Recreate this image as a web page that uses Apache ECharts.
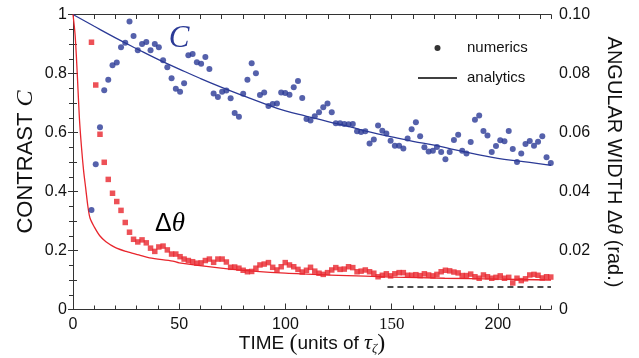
<!DOCTYPE html>
<html><head><meta charset="utf-8">
<script src="https://cdn.jsdelivr.net/npm/echarts@6/dist/echarts.min.js"></script>
<style>html,body{margin:0;padding:0;background:#fff}#c{width:639px;height:358px}</style>
</head><body><div id="c"></div>
<script>
// ---- data ----
const time = [8.7,10.7,12.7,14.7,16.6,18.6,20.6,22.6,24.6,26.6,28.5,30.5,32.5,34.5,36.5,38.5,40.4,42.4,44.4,46.4,48.4,50.4,52.3,54.3,56.3,58.3,60.3,62.3,64.2,66.2,68.2,70.2,72.2,74.2,76.1,78.1,80.1,82.1,84.1,86.1,88.0,90.0,92.0,94.0,96.0,98.0,99.9,101.9,103.9,105.9,107.9,109.9,111.8,113.8,115.8,117.8,119.8,121.8,123.7,125.7,127.7,129.7,131.7,133.7,135.6,137.6,139.6,141.6,143.6,145.6,147.5,149.5,151.5,153.5,155.5,157.5,159.4,161.4,163.4,165.4,167.4,169.4,171.3,173.3,175.3,177.3,179.3,181.3,183.2,185.2,187.2,189.2,191.2,193.2,195.1,197.1,199.1,201.1,203.1,205.1,207.0,209.0,211.0,213.0,215.0,217.0,218.9,220.9,222.9,224.9];
const contrastNumerics = [0.337,0.492,0.618,0.743,0.779,0.828,0.837,0.889,0.904,0.976,0.927,0.879,0.900,0.907,0.879,0.900,0.889,0.845,0.821,0.784,0.748,0.738,0.767,0.862,0.866,0.838,0.833,0.856,0.815,0.732,0.720,0.738,0.742,0.716,0.666,0.653,0.731,0.779,0.835,0.801,0.727,0.736,0.690,0.697,0.698,0.736,0.734,0.728,0.753,0.775,0.717,0.646,0.641,0.655,0.669,0.686,0.698,0.669,0.631,0.631,0.629,0.628,0.629,0.604,0.602,0.604,0.563,0.576,0.624,0.606,0.597,0.572,0.555,0.555,0.546,0.580,0.611,0.635,0.587,0.550,0.536,0.538,0.551,0.534,0.509,0.534,0.575,0.592,0.538,0.529,0.568,0.643,0.658,0.605,0.590,0.534,0.554,0.574,0.570,0.605,0.544,0.500,0.529,0.561,0.571,0.555,0.569,0.587,0.516,0.497];
const widthNumerics = [0.0906,0.0761,0.0594,0.0499,0.0441,0.0394,0.0366,0.0336,0.0295,0.0262,0.0238,0.0229,0.0236,0.0226,0.0208,0.0197,0.0212,0.0215,0.0202,0.0188,0.0188,0.0179,0.0171,0.0166,0.0162,0.0157,0.0158,0.0166,0.0171,0.0160,0.0171,0.0171,0.0161,0.0143,0.0144,0.0140,0.0133,0.0128,0.0129,0.0140,0.0151,0.0154,0.0159,0.0143,0.0134,0.0145,0.0159,0.0151,0.0145,0.0136,0.0127,0.0133,0.0143,0.0130,0.0123,0.0119,0.0125,0.0134,0.0142,0.0136,0.0137,0.0145,0.0142,0.0128,0.0130,0.0134,0.0128,0.0123,0.0111,0.0116,0.0121,0.0114,0.0121,0.0125,0.0125,0.0116,0.0116,0.0118,0.0115,0.0121,0.0117,0.0114,0.0119,0.0128,0.0133,0.0131,0.0127,0.0124,0.0115,0.0115,0.0120,0.0111,0.0106,0.0117,0.0111,0.0106,0.0109,0.0114,0.0106,0.0109,0.0090,0.0106,0.0098,0.0104,0.0117,0.0119,0.0116,0.0107,0.0111,0.0110];
const contrastAnalyticT = [0,10,20,30,40,50,60,70,80,90,100,110,120,130,140,150,160,170,180,190,200,210,220,225];
const contrastAnalytic = [1.000,0.960,0.921,0.884,0.848,0.815,0.783,0.753,0.725,0.698,0.673,0.655,0.637,0.620,0.601,0.585,0.570,0.557,0.541,0.526,0.512,0.503,0.494,0.489];
const widthAnalyticT = [0,1,2,3,4,5,6,7,8,10,12.6,15.5,20,25,31,36,47,50,75,100,125,150,175,200,225];
const widthAnalytic = [0.100,0.093,0.080,0.065,0.055,0.047,0.041,0.035,0.031,0.028,0.025,0.023,0.021,0.0197,0.0185,0.0175,0.0164,0.0158,0.0136,0.0123,0.0116,0.0110,0.0106,0.0103,0.0100];
const floorT = [148, 225];
const floorWidth = [0.0076, 0.0076];

const BLUE = '#2b3a96', RED = '#e8262d', AX = '#333';
const SANS = '"Liberation Sans", Arial, sans-serif';
const SERIF = '"Liberation Serif", "DejaVu Serif", serif';
const zip = (a, b) => a.map((v, i) => [v, b[i]]);

const chart = echarts.init(document.getElementById('c'), null, {renderer: 'canvas'});
const hideAll = {axisLine:{show:false}, axisLabel:{show:false}, splitLine:{show:false}};
chart.setOption({
  animation: false,
  backgroundColor: '#fff',
  grid: {left: 73, right: 88, top: 14.5, bottom: 48.5, outerBoundsMode: 'none', containLabel: false},
  legend: {
    orient: 'vertical', left: 413, top: 34, itemWidth: 39, itemHeight: 6, itemGap: 12,
    textStyle: {fontFamily: SANS, fontSize: 15, color: '#111', padding: [0,0,0,5], lineHeight: 18},
    data: [
      {name: 'numerics', icon: 'circle', itemStyle: {color: '#000'}},
      {name: 'analytics', icon: 'path://M0 0 H40 V1.6 H0 Z', itemStyle: {color: '#000'}}
    ]
  },
  xAxis: [
    {type: 'value', position: 'bottom', min: 0, max: 225, interval: 50,
     axisLine: {lineStyle: {color: AX, width: 1}},
     axisTick: {inside: true, length: 6, lineStyle: {color: AX}},
     splitLine: {show: false},
     axisLabel: {margin: 7, fontFamily: SANS, fontSize: 16, color: '#111', showMaxLabel: false,
       formatter: v => v === 150 ? '{s|150}' : String(v),
       rich: {s: {fontFamily: SERIF, fontSize: 17, color: '#111'}}},
     name: '{a|TIME }{p|(}{a|units of }{g|τ}{s|ζ}{p|)}', nameLocation: 'middle', nameGap: 22, nameMoveOverlap: false,
     nameTextStyle: {rich: {
       a: {fontFamily: SANS, fontSize: 19, color: '#111', verticalAlign: 'middle'},
       p: {fontFamily: SERIF, fontSize: 24, color: '#111', verticalAlign: 'middle'},
       g: {fontFamily: SERIF, fontStyle: 'italic', fontSize: 22, color: '#111', verticalAlign: 'middle'},
       s: {fontFamily: SERIF, fontStyle: 'italic', fontSize: 13, color: '#111', verticalAlign: 'bottom', padding: [10,0,0,0]}
     }}},
    Object.assign({type: 'value', position: 'bottom', min: 0, max: 225, interval: 10,
     axisTick: {inside: true, length: 4, lineStyle: {color: AX}}}, hideAll),
    {type: 'value', position: 'top', min: 0, max: 225, interval: 10,
     axisLine: {lineStyle: {color: AX, width: 1}},
     axisTick: {inside: true, length: 4.5, lineStyle: {color: AX}},
     axisLabel: {show: false}, splitLine: {show: false}}
  ],
  yAxis: [
    {type: 'value', position: 'left', min: 0, max: 1, interval: 0.2,
     axisLine: {show: true, lineStyle: {color: AX, width: 1}},
     axisTick: {inside: true, length: 5, lineStyle: {color: AX}},
     minorTick: {show: true, splitNumber: 2, length: 4, lineStyle: {color: AX}},
     splitLine: {show: false},
     axisLabel: {margin: 6, fontFamily: SANS, fontSize: 16, color: '#111',
       formatter: v => (v === 0 || v === 1) ? String(v) : v.toFixed(1)},
     name: '{a|CONTRAST }{c|C}', nameLocation: 'middle', nameGap: 35, nameMoveOverlap: false,
     nameTextStyle: {rich: {
       a: {fontFamily: SANS, fontSize: 22, color: '#111'},
       c: {fontFamily: SERIF, fontStyle: 'italic', fontSize: 24, color: '#111'}
     }}},
    {type: 'value', position: 'right', min: 0, max: 0.1, interval: 0.02,
     axisLine: {show: true, lineStyle: {color: AX, width: 1}},
     axisTick: {inside: true, length: 5, lineStyle: {color: AX}},
     minorTick: {show: true, splitNumber: 4, length: 4, lineStyle: {color: AX}},
     splitLine: {show: false},
     axisLabel: {margin: 8, fontFamily: SANS, fontSize: 16, color: '#111',
       formatter: v => v === 0 ? '0' : v.toFixed(2)},
     name: '{a|ANGULAR WIDTH }{d|Δ}{t|θ}{a| (rad.)}', nameLocation: 'middle', nameGap: 52, nameRotate: -90, nameMoveOverlap: false,
     nameTextStyle: {rich: {
       a: {fontFamily: SANS, fontSize: 20, color: '#111'},
       d: {fontFamily: SANS, fontSize: 20, color: '#111'},
       t: {fontFamily: SERIF, fontStyle: 'italic', fontSize: 22, color: '#111'}
     }}}
  ],
  series: [
    {name: 'C analytic', type: 'line', xAxisIndex: 0, yAxisIndex: 0, data: zip(contrastAnalyticT, contrastAnalytic),
     smooth: true, symbol: 'none', lineStyle: {color: BLUE, width: 1.3}, z: 3},
    {name: 'dtheta analytic', type: 'line', xAxisIndex: 0, yAxisIndex: 1, data: zip(widthAnalyticT, widthAnalytic),
     smooth: 0.3, symbol: 'none', lineStyle: {color: RED, width: 1.3}, z: 3},
    {name: 'C numerics', type: 'scatter', xAxisIndex: 0, yAxisIndex: 0, data: zip(time, contrastNumerics),
     symbol: 'circle', symbolSize: 6, itemStyle: {color: BLUE}, z: 4},
    {name: 'dtheta numerics', type: 'scatter', xAxisIndex: 0, yAxisIndex: 1, data: zip(time, widthNumerics),
     symbol: 'rect', symbolSize: 5.5, itemStyle: {color: RED}, z: 4},
    {name: 'floor', type: 'line', xAxisIndex: 0, yAxisIndex: 1, data: zip(floorT, floorWidth),
     symbol: 'none', lineStyle: {color: '#111', width: 1.5, type: [6, 4]}, z: 3},
    {name: 'numerics', type: 'scatter', data: [], symbol: 'circle', itemStyle: {color: '#000'}},
    {name: 'analytics', type: 'line', data: [], symbol: 'none', lineStyle: {color: '#000', width: 1.2}, itemStyle: {color: '#000'}}
  ],
  graphic: [
    {type: 'text', x: 179, y: 39, z: 10, style: {text: 'C', font: 'italic 31px "Liberation Serif", serif', fill: BLUE, align: 'center', verticalAlign: 'middle'}},
    {type: 'text', x: 170, y: 224, z: 10, style: {text: '{d|Δ}{t|θ}', align: 'center', verticalAlign: 'middle',
      rich: {d: {fontFamily: SANS, fontSize: 25, color: RED}, t: {fontFamily: SERIF, fontStyle: 'italic', fontSize: 27, color: RED}}}}
  ]
});
</script></body></html>
